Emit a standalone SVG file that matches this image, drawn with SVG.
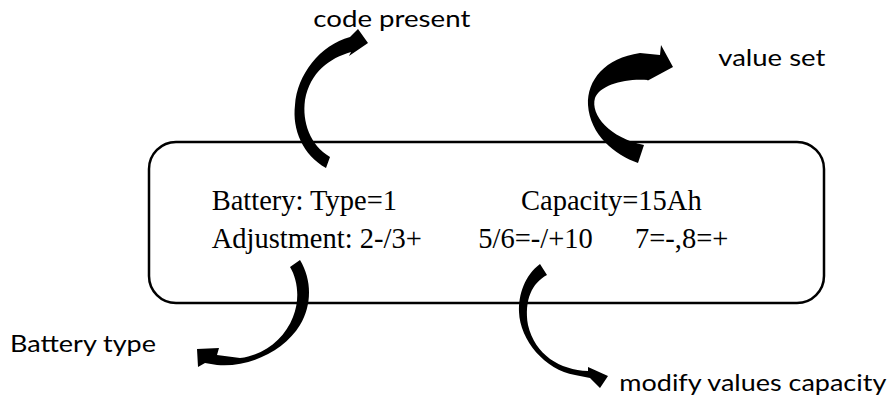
<svg xmlns="http://www.w3.org/2000/svg" width="894" height="400" viewBox="0 0 894 400">
<style>
.box{fill:#fff;stroke:#000;stroke-width:2.5}
.serif{font-family:"Liberation Serif","Times New Roman",serif;font-size:28.5px;fill:#000}
.lbl{font-family:Lato,"Liberation Sans",sans-serif;font-size:24px;fill:#000}
.arr{fill:#000;stroke:none}
</style>
<rect width="894" height="400" fill="#fff"/>
<g id="display">
<rect class="box" x="149" y="142" width="675" height="161" rx="27" ry="27"/>
<text class="serif" x="211.7" y="210">Battery: Type=1</text>
<text class="serif" x="521" y="210">Capacity=15Ah</text>
<text class="serif" x="211.7" y="248.3">Adjustment: 2-/3+</text>
<text class="serif" x="478.3" y="248.3">5/6=-/+10</text>
<text class="serif" x="635" y="248.3">7=-,8=+</text>
</g>
<g id="label-code-present"><text class="lbl" x="313.3" y="27.3" textLength="157" lengthAdjust="spacingAndGlyphs">code present</text></g>
<g id="label-value-set"><text class="lbl" x="718.3" y="66" textLength="107" lengthAdjust="spacingAndGlyphs">value set</text></g>
<g id="label-battery-type"><text class="lbl" x="10" y="351.7" textLength="146" lengthAdjust="spacingAndGlyphs">Battery type</text></g>
<g id="label-modify"><text class="lbl" x="619.3" y="390.7" textLength="267" lengthAdjust="spacingAndGlyphs">modify values capacity</text></g>
<g id="connectors">
<path class="arr" d="M326,168 C303,155 292,130 295,105 C297,75 320,45 350,37 L358,29 L368,43 L349,56 L351,52 C330,58 310,72 305,100 C302,122 310,145 330,157 Z"/>
<path class="arr" d="M638,163 C615,155 590,135 588,105 C587,80 605,58 640,53 L660,55 L661,45 L673,67 L647,81 L648,80 C625,78 600,85 595,98 C590,115 610,138 644,145 Z"/>
<path class="arr" d="M290,267 C298,280 300,300 293,317 C285,338 265,355 240,358 L217,355 L219,348 L197,349 L198,367 L205,363 L217,365 C250,368 285,350 300,325 C312,305 312,280 300,260 Z"/>
<path class="arr" d="M540,264 C525,275 518,295 519,312 C520,340 545,370 575,375 L590,378 L600,388 L608,376 L588,367 L588,371 C560,370 535,355 528,325 C524,300 532,283 547,275 Z"/>
</g>
</svg>
